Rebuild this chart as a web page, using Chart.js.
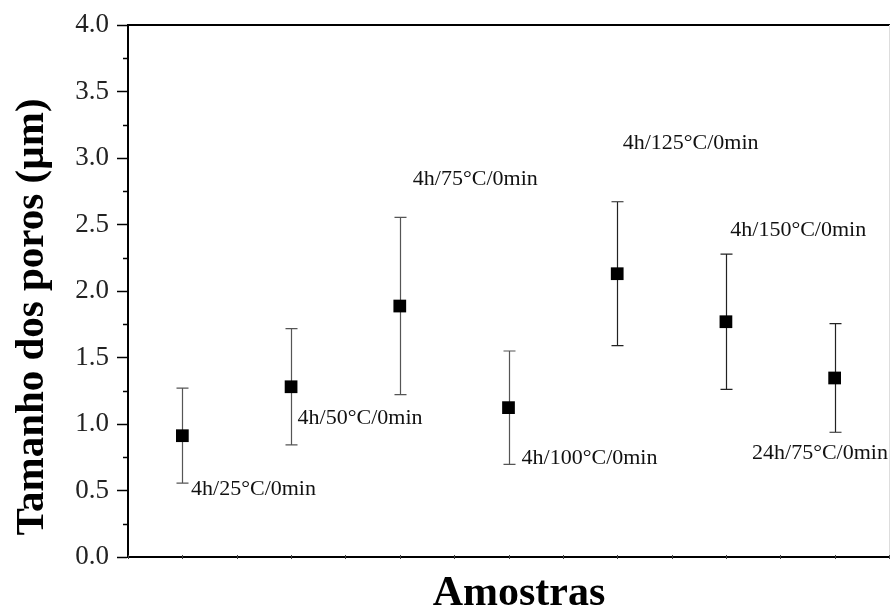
<!DOCTYPE html>
<html>
<head>
<meta charset="utf-8">
<script src="https://cdn.jsdelivr.net/npm/chart.js@4.4.1/dist/chart.umd.min.js"></script>
<style>
  html, body { margin: 0; padding: 0; background: #fff; }
  #wrap { width: 890px; height: 608px; position: relative; }
</style>
</head>
<body>
<div id="wrap"><canvas id="c" width="890" height="608"></canvas></div>
<script>
// ---- data ----
const categories = ['4h/25°C/0min', '4h/50°C/0min', '4h/75°C/0min', '4h/100°C/0min', '4h/125°C/0min', '4h/150°C/0min', '24h/75°C/0min'];
const poreSize = [0.912, 1.280, 1.887, 1.123, 2.130, 1.769, 1.346];
const poreSD = [0.357, 0.437, 0.666, 0.426, 0.541, 0.509, 0.408];
const yTickValues = [0.0, 0.5, 1.0, 1.5, 2.0, 2.5, 3.0, 3.5, 4.0];
// label anchors (in axis units: category index, µm)
const labelX = [0.08, 1.06, 2.12, 3.12, 4.05, 5.04, 5.24];
const labelY = [0.51, 1.04, 2.84, 0.74, 3.11, 2.46, 0.78];
const xTitle = 'Amostras';
const yTitle = 'Tamanho dos poros (µm)';

// ---- styles ----
const SERIF = "'Liberation Serif', 'Times New Roman', serif";
const errColors = ['#555', '#555', '#555', '#555', '#222', '#222', '#222'];

const points = poreSize.map((v, i) => ({ x: i, y: v }));

const extras = {
  id: 'extras',
  beforeDatasetsDraw(chart) {
    const { ctx, scales: { x, y } } = chart;
    ctx.save();
    ctx.lineWidth = 1.2;
    poreSize.forEach((v, i) => {
      const px = Math.round(x.getPixelForValue(i)) + 0.5;
      const top = y.getPixelForValue(v + poreSD[i]);
      const bot = y.getPixelForValue(v - poreSD[i]);
      ctx.strokeStyle = errColors[i];
      ctx.beginPath();
      ctx.moveTo(px, top); ctx.lineTo(px, bot);
      ctx.moveTo(px - 6, top); ctx.lineTo(px + 6, top);
      ctx.moveTo(px - 6, bot); ctx.lineTo(px + 6, bot);
      ctx.stroke();
    });
    ctx.restore();
  },
  afterDraw(chart) {
    const { ctx, chartArea: a, scales: { x, y } } = chart;
    ctx.save();
    // top & right frame
    ctx.strokeStyle = '#000';
    ctx.lineWidth = 2;
    ctx.beginPath();
    ctx.moveTo(a.left - 1, a.top); ctx.lineTo(chart.width, a.top);
    ctx.stroke();
    ctx.strokeStyle = '#ddd';
    ctx.lineWidth = 1;
    ctx.beginPath();
    ctx.moveTo(a.right + 0.5, a.top); ctx.lineTo(a.right + 0.5, a.bottom);
    ctx.stroke();
    // minor y ticks
    ctx.strokeStyle = '#000';
    ctx.lineWidth = 1.5;
    for (let i = 0; i < yTickValues.length - 1; i++) {
      const v = (yTickValues[i] + yTickValues[i + 1]) / 2;
      const py = Math.round(y.getPixelForValue(v)) + 0.5;
      ctx.beginPath();
      ctx.moveTo(a.left - 5, py); ctx.lineTo(a.left, py);
      ctx.stroke();
    }
    // x ticks (category centres and boundaries)
    ctx.strokeStyle = '#444';
    ctx.lineWidth = 1;
    for (let i = 0; i <= categories.length * 2; i++) {
      const v = -0.5 + i * 0.5;
      const px = Math.round(x.getPixelForValue(v)) + 0.5;
      ctx.beginPath();
      ctx.moveTo(px, a.bottom - 2); ctx.lineTo(px, a.bottom + 2);
      ctx.stroke();
    }
    // annotations
    ctx.fillStyle = '#111';
    ctx.font = "22px " + SERIF;
    ctx.textAlign = 'left';
    ctx.textBaseline = 'middle';
    categories.forEach((c, i) => {
      ctx.fillText(c, x.getPixelForValue(labelX[i]), y.getPixelForValue(labelY[i]));
    });
    // axis titles
    ctx.fillStyle = '#000';
    ctx.font = "bold 42px " + SERIF;
    ctx.textAlign = 'center';
    ctx.textBaseline = 'alphabetic';
    ctx.fillText(xTitle, 519, 605);
    ctx.translate(43, 317);
    ctx.rotate(-Math.PI / 2);
    ctx.font = "bold 41px " + SERIF;
    ctx.fillText(yTitle, 0, 0);
    ctx.restore();
  }
};

new Chart(document.getElementById('c'), {
  type: 'scatter',
  data: {
    datasets: [{
      data: points,
      pointStyle: 'rect',
      pointRadius: 9,
      pointHoverRadius: 9,
      backgroundColor: '#000',
      borderColor: '#000',
      borderWidth: 0,
      showLine: false,
      clip: false
    }]
  },
  options: {
    responsive: false,
    animation: false,
    events: [],
    layout: { autoPadding: false, padding: { top: 25, right: 1, bottom: 51, left: 0 } },
    plugins: { legend: { display: false }, tooltip: { enabled: false }, title: { display: false } },
    scales: {
      x: {
        type: 'linear',
        min: -0.5,
        max: categories.length - 0.5,
        ticks: { display: false, stepSize: 0.5 },
        grid: { display: false },
        border: { display: true, color: '#000', width: 2 },
        afterFit: s => { s.height = 0; s.paddingLeft = 0; s.paddingRight = 0; }
      },
      y: {
        min: 0,
        max: 4,
        afterBuildTicks: s => { s.ticks = yTickValues.map(v => ({ value: v })); },
        ticks: {
          color: '#222',
          padding: 8,
          font: { family: SERIF, size: 27 },
          callback: v => Number(v).toFixed(1)
        },
        grid: { drawOnChartArea: false, drawTicks: true, tickLength: 11, tickWidth: 1.5, tickColor: '#000' },
        border: { display: true, color: '#000', width: 2 },
        afterFit: s => { s.width = 128; }
      }
    }
  },
  plugins: [extras]
});
</script>
</body>
</html>
